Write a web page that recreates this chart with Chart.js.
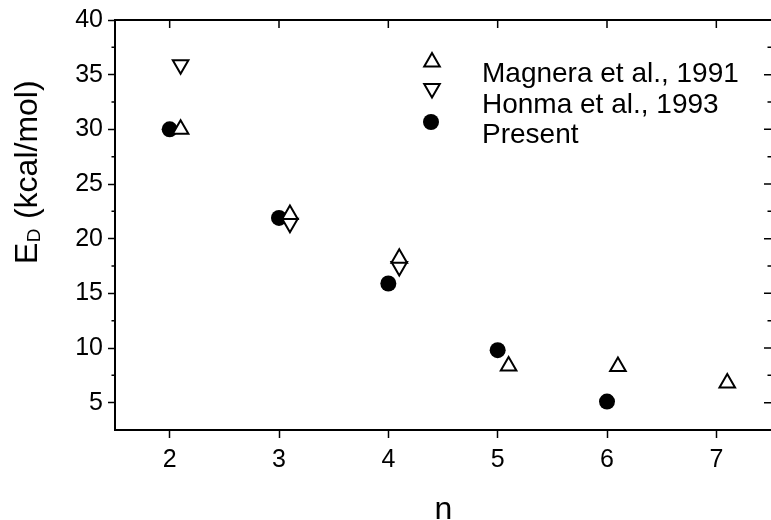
<!DOCTYPE html>
<html><head><meta charset="utf-8">
<style>
html,body{margin:0;padding:0;background:#fff;overflow:hidden;width:771px;height:520px}
#wrap{width:771px;height:520px}
</style>
<script src="https://cdn.jsdelivr.net/npm/chart.js@4"></script>
</head><body>
<div id="wrap"><canvas id="c" width="771" height="520"></canvas></div>
<script>
// ---- data ----
const nMagnera = [2.1, 3.1, 4.1, 5.1, 6.1, 7.1];
const eMagnera = [30.0, 22.2, 18.2, 8.35, 8.3, 6.8];
const nHonma = [2.1, 3.1, 4.1];
const eHonma = [35.9, 21.4, 17.45];
const nPresent = [2, 3, 4, 5, 6];
const ePresent = [30.0, 21.9, 15.9, 9.8, 5.1];
const xTicks = [2, 3, 4, 5, 6, 7];
const yTicks = [5, 10, 15, 20, 25, 30, 35, 40];
const yMinorTicks = [7.5, 12.5, 17.5, 22.5, 27.5, 32.5, 37.5];
const seriesLabels = ['Magnera et al., 1991', 'Honma et al., 1993', 'Present'];
const xTitle = 'n';
const yTitleMain = 'E', yTitleSub = 'D', yTitleRest = ' (kcal/mol)';

const FONT = '"Liberation Sans", Arial, Helvetica, sans-serif';
const pts = (xs, ys) => xs.map((x, i) => ({x, y: ys[i]}));

const triStyle = {pointStyle: 'triangle', radius: 9, borderWidth: 2};
const circStyle = {pointStyle: 'circle', radius: 8, borderWidth: 0};

function drawMarker(ctx, style, rotation, x, y, fill) {
  ctx.save();
  ctx.fillStyle = fill; ctx.strokeStyle = '#000'; ctx.lineWidth = style.borderWidth || 0;
  if (Chart.helpers && Chart.helpers.drawPoint) {
    Chart.helpers.drawPoint(ctx, {pointStyle: style.pointStyle, radius: style.radius, rotation, borderWidth: style.borderWidth}, x, y);
  } else {
    ctx.beginPath();
    if (style.pointStyle === 'circle') ctx.arc(x, y, style.radius, 0, Math.PI * 2);
    else {
      const r = style.radius, s = rotation ? -1 : 1;
      ctx.moveTo(x, y - s * r);
      ctx.lineTo(x + r * Math.sin(Math.PI * 2 / 3), y + s * r / 2);
      ctx.lineTo(x - r * Math.sin(Math.PI * 2 / 3), y + s * r / 2);
      ctx.closePath();
    }
    ctx.fill(); if (style.borderWidth) ctx.stroke();
  }
  ctx.restore();
}

const overlay = {
  id: 'overlay',
  afterDraw(chart) {
    const ctx = chart.ctx, a = chart.chartArea, xs = chart.scales.x, ys = chart.scales.y;
    const right = chart.width;
    ctx.save();
    ctx.strokeStyle = '#000';
    ctx.lineWidth = 2;
    ctx.beginPath();
    ctx.moveTo(a.left - 1, a.top); ctx.lineTo(right, a.top);
    ctx.stroke();
    ctx.lineWidth = 1.5;
    ctx.beginPath();
    xTicks.forEach(v => { const x = xs.getPixelForValue(v); ctx.moveTo(x, a.top); ctx.lineTo(x, a.top + 8); });
    yTicks.forEach(v => { const y = ys.getPixelForValue(v); ctx.moveTo(right, y); ctx.lineTo(right - 7, y); });
    yMinorTicks.forEach(v => {
      const y = ys.getPixelForValue(v);
      ctx.moveTo(a.left, y); ctx.lineTo(a.left - 3.5, y);
      ctx.moveTo(right, y); ctx.lineTo(right - 3.5, y);
    });
    ctx.stroke();

    // legend
    const lx = 432, tx = 482;
    drawMarker(ctx, triStyle, 0, lx, 62, '#fff');
    drawMarker(ctx, triStyle, 180, lx, 88.5, '#fff');
    drawMarker(ctx, circStyle, 0, lx - 1, 122, '#000');
    ctx.fillStyle = '#000';
    ctx.font = '28px ' + FONT;
    ctx.textAlign = 'left'; ctx.textBaseline = 'alphabetic';
    const base = [82, 113, 143];
    seriesLabels.forEach((t, i) => ctx.fillText(t, tx, base[i]));

    // x title
    ctx.font = '32px ' + FONT;
    ctx.textAlign = 'center';
    ctx.fillText(xTitle, 443.5, 519);

    // y title with subscript
    ctx.save();
    ctx.translate(37, 264);
    ctx.rotate(-Math.PI / 2);
    ctx.textAlign = 'left';
    ctx.font = '32px ' + FONT;
    ctx.fillText(yTitleMain, 0, 0);
    const wE = ctx.measureText(yTitleMain).width;
    ctx.font = '19px ' + FONT;
    ctx.fillText(yTitleSub, wE + 0.5, 2.5);
    const wD = ctx.measureText(yTitleSub).width;
    ctx.font = '32px ' + FONT;
    ctx.fillText(yTitleRest, wE + wD + 1, 0);
    ctx.restore();

    ctx.restore();
  }
};

new Chart(document.getElementById('c'), {
  type: 'scatter',
  data: {
    datasets: [
      {label: seriesLabels[0], data: pts(nMagnera, eMagnera), pointStyle: 'triangle', pointRadius: triStyle.radius,
       pointBorderWidth: 2, pointBorderColor: '#000', pointBackgroundColor: '#fff', pointRotation: 0},
      {label: seriesLabels[1], data: pts(nHonma, eHonma), pointStyle: 'triangle', pointRadius: triStyle.radius,
       pointBorderWidth: 2, pointBorderColor: '#000', pointBackgroundColor: '#fff', pointRotation: 180},
      {label: seriesLabels[2], data: pts(nPresent, ePresent), pointStyle: 'circle', pointRadius: circStyle.radius,
       pointBorderWidth: 0, pointBorderColor: '#000', pointBackgroundColor: '#000'}
    ]
  },
  options: {
    responsive: false,
    animation: false,
    devicePixelRatio: 1,
    layout: {autoPadding: false, padding: {left: 0, top: 17, right: 0, bottom: 0}},
    plugins: {legend: {display: false}, tooltip: {enabled: false}},
    elements: {point: {hoverRadius: 8}},
    scales: {
      x: {
        type: 'linear', min: 1.5, max: 7.5,
        afterBuildTicks: s => { s.ticks = xTicks.map(v => ({value: v})); },
        afterFit: s => { s.height = 90; },
        grid: {display: true, drawOnChartArea: false, drawTicks: true, tickLength: 8, tickWidth: 1.5, tickColor: '#000'},
        border: {display: true, color: '#000', width: 2},
        ticks: {color: '#000', padding: 7, font: {family: FONT, size: 25}, maxRotation: 0, autoSkip: false},
        title: {display: false}
      },
      y: {
        type: 'linear', min: 2.5, max: 40,
        afterBuildTicks: s => { s.ticks = yTicks.map(v => ({value: v})); },
        afterFit: s => { s.width = 115; },
        grid: {display: true, drawOnChartArea: false, drawTicks: true, tickLength: 7, tickWidth: 1.5, tickColor: '#000'},
        border: {display: true, color: '#000', width: 2},
        ticks: {color: '#000', padding: 5, font: {family: FONT, size: 25}, autoSkip: false},
        title: {display: false}
      }
    }
  },
  plugins: [overlay]
});
</script>
</body></html>
